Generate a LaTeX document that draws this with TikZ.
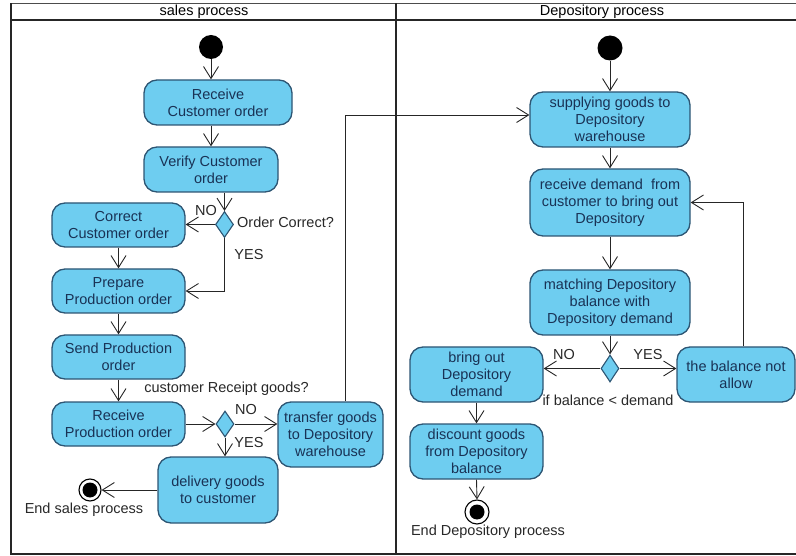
\documentclass[tikz,border=0pt]{standalone}
\usepackage{fontspec}
\setmainfont{Liberation Sans}
\usetikzlibrary{shapes.geometric,arrows.meta}
\definecolor{actfill}{RGB}{110,205,240}
\definecolor{actdraw}{RGB}{45,85,115}
\definecolor{acttext}{RGB}{25,50,85}
\definecolor{lbltext}{RGB}{40,40,40}
\tikzset{
  act/.style={rectangle, rounded corners=13pt, draw=actdraw, line width=1.3pt, fill=actfill,
    text=acttext, align=center, inner sep=2pt, font=\fontsize{14.5}{17}\selectfont},
  dec/.style={diamond, draw=actdraw, line width=1.1pt, fill=actfill, inner sep=0pt,
    minimum width=18pt, minimum height=26pt},
  startdot/.style={circle, fill=black, minimum size=24pt, inner sep=0pt},
  enddot/.style={circle, draw=black, line width=1.1pt, fill=white, minimum size=22pt, inner sep=0pt,
    path picture={\fill[black] (path picture bounding box.center) circle (7.5pt);}},
  lbl/.style={text=lbltext, inner sep=0pt, font=\fontsize{14.5}{17}\selectfont},
  hdr/.style={text=black, inner sep=0pt, font=\fontsize{14.5}{17}\selectfont},
  arr/.style={draw=black!85, line width=0.9pt, -{Straight Barb[length=12pt,width=15pt]}},
  frame/.style={draw=black!85, line width=1.8pt}
}
\begin{document}
\begin{tikzpicture}[x=1pt,y=-1pt]
\useasboundingbox (0,0) rectangle (796,556);
% frame
\draw[draw=black!70, line width=1pt] (11,4) -- (796,4);
\draw[frame] (11,20) -- (796,20);
\draw[frame] (11,3.5) -- (11,554);
\draw[frame] (10.1,554) -- (796,554);
\draw[frame] (396,3.5) -- (396,554);
\node[hdr] (h1) at (204,12) {sales process};
\node[hdr] (h2) at (602,12) {Depository process};

% left lane
\node[startdot] (s1) at (211,47) {};
\node[act, minimum width=148pt, minimum height=45pt] (rc) at (218,102.5) {Receive\\Customer order};
\node[act, minimum width=134pt, minimum height=45pt] (vc) at (211,169.5) {Verify Customer\\order};
\node[dec] (d1) at (224.5,224.5) {};
\node[act, minimum width=133pt, minimum height=44pt] (cc) at (118.5,225) {Correct\\Customer order};
\node[act, minimum width=133pt, minimum height=44pt] (pp) at (118.5,291) {Prepare\\Production order};
\node[act, minimum width=133pt, minimum height=44pt] (sp) at (118.5,357) {Send Production\\order};
\node[act, minimum width=133pt, minimum height=44pt] (rp) at (118.5,424) {Receive\\Production order};
\node[dec] (d2) at (225,424) {};
\node[act, minimum width=105pt, minimum height=65pt] (tg) at (330.5,434.5) {transfer goods\\to Depository\\warehouse};
\node[act, minimum width=120pt, minimum height=66pt] (dg) at (218,490) {delivery goods\\to customer};
\node[enddot] (e1) at (90,490) {};

\node[lbl] (l1) at (206,211) {NO};
\node[lbl, anchor=west] (l2) at (237,222.5) {Order Correct?};
\node[lbl] (l3) at (249,255) {YES};
\node[lbl] (l4) at (226.5,389) {customer Receipt goods?};
\node[lbl] (l5) at (246,410) {NO};
\node[lbl] (l6) at (249,443) {YES};
\node[lbl] (l7) at (84,510) {End sales process};

\draw[arr] (s1) -- (s1 |- rc.north);
\draw[arr] (rc.south -| vc) -- (vc.north);
\draw[arr] (vc.south -| d1) -- (d1.north);
\draw[arr] (d1.west) -- (d1.west -| cc.east);
\draw[arr] (d1.south) |- (pp.east);
\draw[arr] (cc.south) -- (pp.north);
\draw[arr] (pp.south) -- (sp.north);
\draw[arr] (sp.south) -- (rp.north);
\draw[arr] (rp.east) -- (d2.west);
\draw[arr] (d2.east) -- (d2.east -| tg.west);
\draw[arr] (d2.south) -- (d2.south |- dg.north);
\draw[arr] (dg.west) -- (e1.east);

% right lane
\node[startdot, minimum size=25pt] (s2) at (610,48) {};
\node[act, minimum width=160pt, minimum height=55pt] (sg) at (610,119.5) {supplying goods to\\Depository\\warehouse};
\node[act, minimum width=160pt, minimum height=67pt] (rd) at (610,202.5) {receive demand\ \ from\\customer to bring out\\Depository};
\node[act, minimum width=160pt, minimum height=65pt] (md) at (610,302.5) {matching Depository\\balance with\\Depository demand};
\node[dec, minimum height=27pt] (d3) at (610,368.5) {};
\node[act, minimum width=133pt, minimum height=55pt] (bo) at (476.5,374.5) {bring out\\Depository\\demand};
\node[act, minimum width=118pt, minimum height=55pt] (bn) at (736,374.5) {the balance not\\allow};
\node[act, minimum width=133pt, minimum height=55pt] (db) at (476.5,451.5) {discount goods\\from Depository\\balance};
\node[enddot, minimum size=24pt] (e2) at (477,512) {};

\node[lbl] (l8) at (564,355) {NO};
\node[lbl] (l9) at (648,355) {YES};
\node[lbl] (l10) at (608,400) {if balance < demand};
\node[lbl] (l11) at (488,532) {End Depository process};

\coordinate (tu) at (345,115);
\draw[arr] (tu |- tg.north) -- (tu) -- (tu -| sg.west);
\draw[arr] (s2) -- (sg.north);
\draw[arr] (sg.south) -- (rd.north);
\draw[arr] (rd.south) -- (md.north);
\draw[arr] (md.south) -- (d3.north);
\draw[arr] (d3.west) -- (d3.west -| bo.east);
\draw[arr] (d3.east) -- (d3.east -| bn.west);
\coordinate (lp) at (743,202.5);
\draw[arr] (lp |- bn.north) -- (lp) -- (rd.east);
\draw[arr] (bo.south) -- (db.north);
\draw[arr] (db.south) -- (e2.north);
\end{tikzpicture}
\end{document}
